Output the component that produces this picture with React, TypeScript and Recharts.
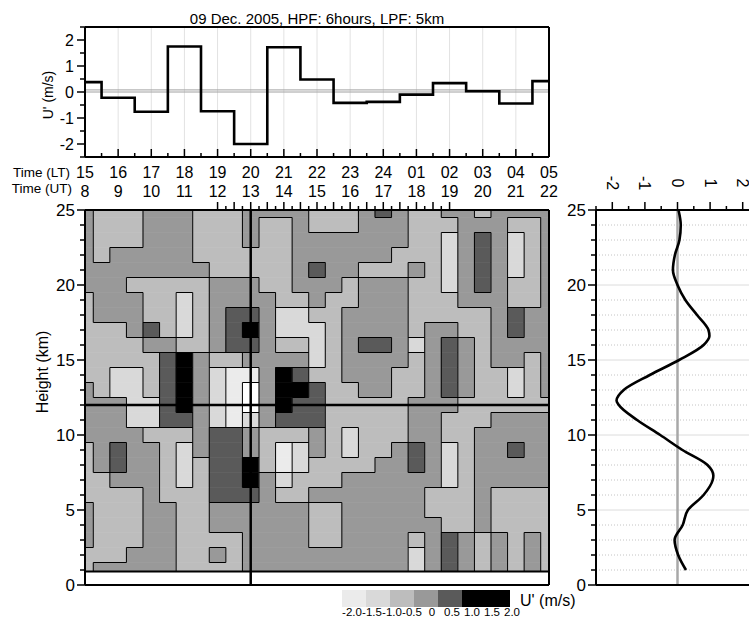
import React from 'react';
import {
  LineChart,
  Line,
  ComposedChart,
  XAxis,
  YAxis,
  ReferenceLine,
  ReferenceArea,
} from 'recharts';

const FONT = '"Liberation Sans", Arial, Helvetica, sans-serif';

// ---- top panel: U' at the cross-section height, one value per hour (UT)
const utHours = [8, 9, 10, 11, 12, 13, 14, 15, 16, 17, 18, 19, 20, 21, 22];
const ltLabels = ['15', '16', '17', '18', '19', '20', '21', '22', '23', '24', '01', '02', '03', '04', '05'];
const uSteps = [0.38, -0.22, -0.76, 1.75, -0.74, -2.0, 1.72, 0.48, -0.42, -0.38, -0.1, 0.34, 0.03, -0.44, 0.42];

const halfHours = [8, 8.5, 9, 9.5, 10, 10.5, 11, 11.5, 12, 12.5, 13, 13.5, 14, 14.5, 15, 15.5, 16, 16.5, 17, 17.5, 18, 18.5, 19, 19.5, 20, 20.5, 21, 21.5, 22];
const uTicks = [-2.5, -2, -1.5, -1, -0.5, 0, 0.5, 1, 1.5, 2, 2.5];
const kmTicks = [0, 1, 2, 3, 4, 5, 6, 7, 8, 9, 10, 11, 12, 13, 14, 15, 16, 17, 18, 19, 20, 21, 22, 23, 24, 25];

// ---- contour panel: shade class per half hour (columns) and per km (rows, top to bottom)
const crossTime = 13;
const crossHeight = 12;
const contourBase = 0.9;
const gridHeights = [25, 24, 23, 22, 21, 20, 19, 18, 17, 16, 15, 14, 13, 12, 11, 10, 9, 8, 7, 6, 5, 4, 3, 2, 1];
const gridLevels = [
  '43334443334444333454334434444',
  '43334443334334333444333444334',
  '43334443334334444444332454234',
  '43444443333334444443332454234',
  '44444444333334544333432454234',
  '44433333444334443444332454334',
  '34443323444433433444333444334',
  '34443323455422334444333334544',
  '33345323456422234444344334544',
  '33334433455433234554245434444',
  '33333564334444234444345434434',
  '33223564211465334443345433234',
  '43223564210466533443345433234',
  '44422564210465533333444333333',
  '44422554212455533333443334444',
  '44443334554333432333443344444',
  '34544324554312432334542344544',
  '34544323556312333344542344444',
  '33444323556423334444442344444',
  '33334333555433444444433343333',
  '43334433444444334444433343333',
  '43334433444444334444443343333',
  '43334433334444334444345434343',
  '33344433434444444444245434343',
  '34444433334444444444245434343',
];
const levelColors = ['#ffffff', '#ebebeb', '#d9d9d9', '#bdbdbd', '#999999', '#5a5a5a', '#000000'];
const legendColors = ['#ebebeb', '#d9d9d9', '#bdbdbd', '#999999', '#5a5a5a', '#000000', '#000000'];
const legendLabels = ['-2.0', '-1.5', '-1.0', '-0.5', '0', '0.5', '1.0', '1.5', '2.0'];

// ---- right panel: U' profile at 13 UT
const profileHeights = [1, 2, 3, 4, 5, 6, 7, 7.3, 8, 9, 10, 11, 12, 12.3, 13, 14, 15, 16, 16.6, 17, 18, 19, 20, 21, 22, 23, 24, 25];
const profileValues = [0.26, 0.02, -0.09, 0.16, 0.32, 0.8, 1.08, 1.1, 0.92, 0.15, -0.53, -1.24, -1.8, -1.87, -1.65, -0.85, 0.05, 0.8, 0.98, 0.95, 0.6, 0.24, 0.0, -0.14, -0.08, 0.06, 0.1, 0.03];

const nCols = halfHours.length;
const nRows = gridHeights.length;
const lvl = (r: number, c: number) => Number(gridLevels[r].charAt(c));
const colLo = (c: number) => (c === 0 ? halfHours[0] : (halfHours[c - 1] + halfHours[c]) / 2);
const colHi = (c: number) => (c === nCols - 1 ? halfHours[nCols - 1] : (halfHours[c] + halfHours[c + 1]) / 2);
const rowHi = (r: number) => (r === 0 ? gridHeights[0] : (gridHeights[r - 1] + gridHeights[r]) / 2);
const rowLo = (r: number) => (r === nRows - 1 ? contourBase : (gridHeights[r] + gridHeights[r + 1]) / 2);

type Run = { x1: number; x2: number; y1: number; y2: number; level: number };
type Seg = { x1: number; x2: number; y1: number; y2: number };

const cellRuns: Run[] = [];
for (let r = 0; r < nRows; r++) {
  let start = 0;
  for (let c = 1; c <= nCols; c++) {
    if (c === nCols || lvl(r, c) !== lvl(r, start)) {
      cellRuns.push({ x1: colLo(start), x2: colHi(c - 1), y1: rowLo(r), y2: rowHi(r), level: lvl(r, start) });
      start = c;
    }
  }
}

const contourSegs: Seg[] = [];
for (let c = 0; c < nCols - 1; c++) {
  let start = -1;
  for (let r = 0; r <= nRows; r++) {
    const diff = r < nRows && lvl(r, c) !== lvl(r, c + 1);
    if (diff && start < 0) start = r;
    if (!diff && start >= 0) {
      contourSegs.push({ x1: colHi(c), x2: colHi(c), y1: rowHi(start), y2: rowLo(r - 1) });
      start = -1;
    }
  }
}
for (let r = 0; r < nRows - 1; r++) {
  let start = -1;
  for (let c = 0; c <= nCols; c++) {
    const diff = c < nCols && lvl(r, c) !== lvl(r + 1, c);
    if (diff && start < 0) start = c;
    if (!diff && start >= 0) {
      contourSegs.push({ x1: colLo(start), x2: colHi(c - 1), y1: rowLo(r), y2: rowLo(r) });
      start = -1;
    }
  }
}

const txt = (x: number, y: number, s: string, size: number, anchor = 'middle', transform?: string) => (
  <text
    x={x}
    y={y}
    fontSize={size}
    fontFamily={FONT}
    fill="#000"
    textAnchor={anchor}
    dominantBaseline="central"
    transform={transform}
  >
    {s}
  </text>
);

const isInt = (v: number) => Math.abs(v - Math.round(v)) < 1e-6;
const axisStyle = { stroke: '#000', strokeWidth: 2 };

// bottom axis of the top panel: inward ticks, LT and UT label rows
const timeTick = (p: any) => {
  const v = p.payload.value;
  const i = utHours.indexOf(v);
  return (
    <g>
      <line x1={p.x} x2={p.x} y1={p.y} y2={p.y - (isInt(v) ? 8 : 4)} stroke="#000" strokeWidth={1.5} />
      {i >= 0 && txt(p.x, p.y + 15, ltLabels[i], 16)}
      {i >= 0 && txt(p.x, p.y + 34, String(utHours[i]), 16)}
    </g>
  );
};

const upTick = (p: any) => {
  const v = p.payload.value;
  return <line x1={p.x} x2={p.x} y1={p.y} y2={p.y - (isInt(v) ? 8 : 4)} stroke="#000" strokeWidth={1.5} />;
};

const uLeftTick = (p: any) => {
  const v = p.payload.value;
  return (
    <g>
      <line x1={p.x} x2={p.x - (isInt(v) ? 8 : 5)} y1={p.y} y2={p.y} stroke="#000" strokeWidth={1.5} />
      {isInt(v) && txt(p.x - 11, p.y, String(v), 16, 'end')}
    </g>
  );
};

const uRightTick = (p: any) => <line x1={p.x} x2={p.x - 4} y1={p.y} y2={p.y} stroke="#000" strokeWidth={1.5} />;

const kmTick = (p: any) => {
  const v = p.payload.value;
  const major = v % 5 === 0;
  return (
    <g>
      <line x1={p.x} x2={p.x - (major ? 8 : 5)} y1={p.y} y2={p.y} stroke="#000" strokeWidth={1.5} />
      {major && txt(p.x - 10, p.y, String(v), 17, 'end')}
    </g>
  );
};

const profileTopTick = (p: any) => {
  const v = p.payload.value;
  const ly = p.y - 27;
  return (
    <g>
      <line x1={p.x} x2={p.x} y1={p.y} y2={p.y - (isInt(v) ? 8 : 4)} stroke="#000" strokeWidth={1.5} />
      {isInt(v) && txt(p.x, ly, String(v), 16, 'middle', `rotate(90, ${p.x}, ${ly})`)}
    </g>
  );
};

function TopPanel() {
  const data = utHours.map((t, i) => ({ t, u: uSteps[i] }));
  return (
    <LineChart width={560} height={200} data={data} margin={{ top: 26, right: 10, bottom: 42, left: 0 }}>
      <XAxis
        dataKey="t"
        type="number"
        domain={[8, 22]}
        ticks={halfHours}
        interval={0}
        height={1}
        tickSize={0}
        tickMargin={0}
        tickLine={false}
        axisLine={axisStyle}
        tick={timeTick}
      />
      <XAxis xAxisId="top" orientation="top" type="number" domain={[8, 22]} height={1} tick={false} tickLine={false} axisLine={axisStyle} />
      <YAxis
        type="number"
        domain={[-2.5, 2.5]}
        ticks={uTicks}
        interval={0}
        width={85}
        tickSize={0}
        tickMargin={0}
        tickLine={false}
        axisLine={axisStyle}
        tick={uLeftTick}
      />
      <YAxis
        yAxisId="right"
        orientation="right"
        type="number"
        domain={[-2.5, 2.5]}
        ticks={uTicks}
        interval={0}
        width={1}
        tickSize={0}
        tickMargin={0}
        tickLine={false}
        axisLine={axisStyle}
        tick={uRightTick}
      />
      {utHours.slice(1, -1).map((t) => (
        <ReferenceLine key={`g${t}`} x={t} stroke="#e2e2e2" strokeWidth={1} />
      ))}
      <ReferenceLine y={0.08} stroke="#a0a0a0" strokeWidth={1} />
      <ReferenceLine y={0} stroke="#a0a0a0" strokeWidth={1} />
      <Line type="step" dataKey="u" stroke="#000" strokeWidth={2.6} dot={false} isAnimationActive={false} />
    </LineChart>
  );
}

function ContourPanel() {
  // the horizontal cross-section line is drawn as a series at the chosen height
  const data = halfHours.map((t) => ({ t, h: crossHeight }));
  return (
    <ComposedChart width={560} height={600} data={data} margin={{ top: 209, right: 10, bottom: 14, left: 0 }}>
      <XAxis dataKey="t" type="number" domain={[8, 22]} height={1} tick={false} tickLine={false} axisLine={axisStyle} />
      <XAxis
        xAxisId="top"
        orientation="top"
        type="number"
        domain={[8, 22]}
        ticks={halfHours}
        interval={0}
        height={1}
        tickSize={0}
        tickMargin={0}
        tickLine={false}
        axisLine={axisStyle}
        tick={upTick}
      />
      <YAxis
        type="number"
        domain={[0, 25]}
        ticks={kmTicks}
        interval={0}
        width={85}
        tickSize={0}
        tickMargin={0}
        tickLine={false}
        axisLine={axisStyle}
        tick={kmTick}
      />
      <YAxis yAxisId="right" orientation="right" type="number" domain={[0, 25]} width={1} tick={false} tickLine={false} axisLine={axisStyle} />
      {cellRuns.map((c, i) => (
        <ReferenceArea
          key={`c${i}`}
          x1={c.x1}
          x2={c.x2}
          y1={c.y1}
          y2={c.y2}
          fill={levelColors[c.level]}
          fillOpacity={1}
          stroke={levelColors[c.level]}
          strokeWidth={0.6}
          ifOverflow="visible"
        />
      ))}
      {contourSegs.map((s, i) => (
        <ReferenceLine
          key={`s${i}`}
          segment={[{ x: s.x1, y: s.y1 }, { x: s.x2, y: s.y2 }]}
          stroke="#000"
          strokeWidth={1}
          ifOverflow="visible"
        />
      ))}
      <ReferenceLine y={contourBase} stroke="#000" strokeWidth={2} />
      <ReferenceLine x={8} stroke="#000" strokeWidth={2} />
      <ReferenceLine x={22} stroke="#000" strokeWidth={2} />
      <ReferenceLine y={25} stroke="#000" strokeWidth={2} />
      <ReferenceLine y={0} stroke="#000" strokeWidth={2} />
      <ReferenceLine x={crossTime} stroke="#000" strokeWidth={2.5} />
      <Line type="linear" dataKey="h" stroke="#000" strokeWidth={2.5} dot={false} isAnimationActive={false} />
    </ComposedChart>
  );
}

function ProfilePanel() {
  const data = profileHeights.map((h, i) => ({ h, v: profileValues[i] }));
  return (
    <LineChart layout="vertical" width={203} height={600} data={data} margin={{ top: 209, right: 0, bottom: 14, left: 0 }}>
      <XAxis
        type="number"
        orientation="top"
        domain={[-2.5, 2.5]}
        ticks={uTicks}
        interval={0}
        height={1}
        tickSize={0}
        tickMargin={0}
        tickLine={false}
        axisLine={axisStyle}
        tick={profileTopTick}
      />
      <XAxis
        xAxisId="bottom"
        type="number"
        orientation="bottom"
        domain={[-2.5, 2.5]}
        ticks={uTicks}
        interval={0}
        height={1}
        tickSize={0}
        tickMargin={0}
        tickLine={false}
        axisLine={axisStyle}
        tick={upTick}
      />
      <YAxis
        type="number"
        dataKey="h"
        domain={[0, 25]}
        reversed
        ticks={kmTicks}
        interval={0}
        width={40}
        tickSize={0}
        tickMargin={0}
        tickLine={false}
        axisLine={axisStyle}
        tick={kmTick}
      />
      {kmTicks.slice(1, -1).map((k) => (
        <ReferenceLine
          key={`k${k}`}
          y={k}
          stroke={k % 5 === 0 ? '#dcdcdc' : '#c4c4c4'}
          strokeWidth={1}
          strokeDasharray={k % 5 === 0 ? undefined : '1 2'}
        />
      ))}
      <ReferenceLine x={0} stroke="#a8a8a8" strokeWidth={2.5} />
      <Line type="monotone" dataKey="v" stroke="#000" strokeWidth={2.6} dot={false} isAnimationActive={false} />
    </LineChart>
  );
}

export default function App() {
  return (
    <div
      style={{
        position: 'fixed',
        left: 0,
        top: 0,
        width: 749,
        height: 619,
        overflow: 'hidden',
        background: '#fff',
        fontFamily: FONT,
      }}
    >
      <div style={{ position: 'absolute', left: 0, top: 0 }}>
        <TopPanel />
      </div>
      <div style={{ position: 'absolute', left: 0, top: 0 }}>
        <ContourPanel />
      </div>
      <div style={{ position: 'absolute', left: 556, top: 0 }}>
        <ProfilePanel />
      </div>
      <svg width={749} height={619} style={{ position: 'absolute', left: 0, top: 0, pointerEvents: 'none' }}>
        {txt(317, 18, '09 Dec. 2005, HPF: 6hours, LPF: 5km', 15)}
        {txt(48, 95, "U' (m/s)", 14, 'middle', 'rotate(-90, 48, 95)')}
        {txt(70, 172, 'Time (LT)', 13.5, 'end')}
        {txt(72, 188, 'Time (UT)', 13.5, 'end')}
        {txt(42, 372, 'Height (km)', 16, 'middle', 'rotate(-90, 42, 372)')}
        {legendColors.map((c, k) => (
          <rect key={`lc${k}`} x={342 + 24 * k} y={590} width={24} height={17} fill={c} />
        ))}
        {legendLabels.map((s, k) => (
          <React.Fragment key={`ll${k}`}>{txt(352 + 20 * k, 612, s, 11.5)}</React.Fragment>
        ))}
        {txt(520, 600, "U' (m/s)", 16, 'start')}
      </svg>
    </div>
  );
}
